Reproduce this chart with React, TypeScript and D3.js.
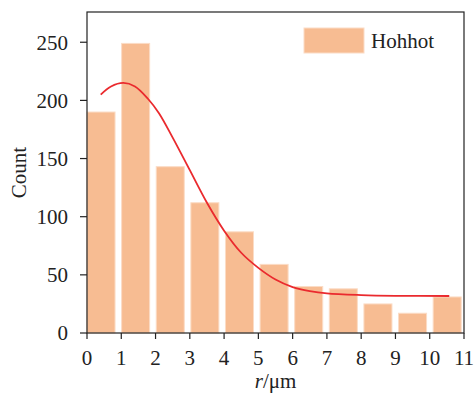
import { useMemo } from 'react';
import * as d3 from 'd3';

// histogram counts per bin (bin i spans i*binWidth .. (i+1)*binWidth)
const counts = [190, 249, 143, 112, 87, 59, 40, 38, 25, 17, 31];
const binWidth = 1.01;
const barFrac = 0.81;

// fitted curve
const curveX = [0.4, 0.7, 1.06, 1.4, 1.79, 2.1, 2.5, 3.0, 3.5, 4.0, 4.5, 5.0, 5.5, 6.0, 6.5, 7.0, 8.0, 9.0, 10.57];
const curveY = [205, 212, 215, 212, 201, 189, 168, 140, 112, 88, 69, 56, 46, 39.5, 36, 34, 32.6, 32, 31.8];

const xTicks = [0, 1, 2, 3, 4, 5, 6, 7, 8, 9, 10, 11];
const yTicks = [0, 50, 100, 150, 200, 250];

const W = 474;
const H = 394;
const margin = { top: 12, right: 10, bottom: 61, left: 87 };
const FONT = '"Liberation Serif", "DejaVu Serif", serif';
const FS = 21;

export default function App() {
  const iw = W - margin.left - margin.right;
  const ih = H - margin.top - margin.bottom;

  const x = useMemo(() => d3.scaleLinear().domain([0, 11]).range([0, iw]), [iw]);
  const y = useMemo(() => d3.scaleLinear().domain([0, 276]).range([ih, 0]), [ih]);

  const line = d3.line<number>()
    .x((_, i) => x(curveX[i]))
    .y(d => y(d))
    .curve(d3.curveCatmullRom.alpha(0.5));

  return (
    <svg width={W} height={H} style={{ position: 'absolute', left: 0, top: 0 }} fontFamily={FONT}>
      <g transform={`translate(${margin.left},${margin.top})`}>
        {/* bars */}
        {counts.map((c, i) => (
          <rect
            key={i}
            x={x(i * binWidth)}
            y={y(c)}
            width={x(binWidth * barFrac) - x(0)}
            height={y(0) - y(c)}
            fill="#f7bc92"
            stroke="#fbdcc6"
            strokeWidth={1}
          />
        ))}

        {/* fitted curve */}
        <path d={line(curveY) || ''} fill="none" stroke="#ea2a2e" strokeWidth={1.8} />

        {/* frame */}
        <rect x={0} y={0} width={iw} height={ih} fill="none" stroke="#222" strokeWidth={1.2} />

        {/* x axis */}
        {xTicks.map(t => (
          <g key={t} transform={`translate(${x(t)},${ih})`}>
            <line y1={0} y2={6} stroke="#222" strokeWidth={1.2} />
            <text y={32} textAnchor="middle" fontSize={FS} fill="#222">{t}</text>
          </g>
        ))}
        <text x={x(5.5)} y={ih + 55} textAnchor="middle" fontSize={FS} fill="#222">
          <tspan fontStyle="italic">r</tspan>/μm
        </text>

        {/* y axis */}
        {yTicks.map(t => (
          <g key={t} transform={`translate(0,${y(t)})`}>
            <line x1={0} x2={-7} stroke="#222" strokeWidth={1.2} />
            <text x={-19} dy="0.35em" textAnchor="end" fontSize={FS} fill="#222">{t}</text>
          </g>
        ))}
        <text
          transform={`translate(${-61},${ih / 2}) rotate(-90)`}
          textAnchor="middle"
          fontSize={FS}
          fill="#222"
        >
          Count
        </text>

        {/* legend */}
        <rect x={217} y={16} width={60} height={25} fill="#f7bc92" stroke="#fbdcc6" strokeWidth={1} />
        <text x={284} y={36} fontSize={FS} fill="#222">Hohhot</text>
      </g>
    </svg>
  );
}
